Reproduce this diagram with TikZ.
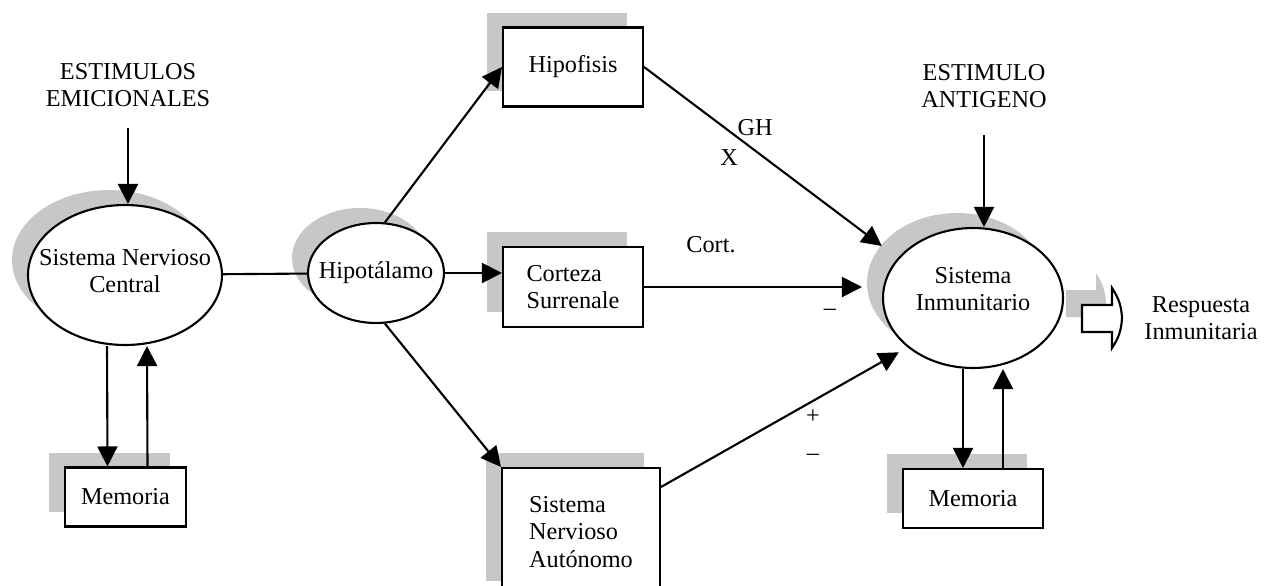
\documentclass[tikz,border=0pt]{standalone}
\usepackage{fontspec}
\setmainfont{Liberation Serif}
\usetikzlibrary{shapes.geometric,arrows.meta,shadows}

\tikzset{
  caja/.style={rectangle, draw, fill=white, line width=1.2pt, minimum width=2.8cm},
  elipse/.style={ellipse, draw, fill=white, line width=1.2pt, inner xsep=-0.4cm, inner ysep=0pt},
  sombra/.style={drop shadow={shadow xshift=-0.32cm, shadow yshift=0.3cm, fill=black!22, opacity=1}},
  flecha/.style={-{Triangle[length=0.4cm, width=0.4cm]}, line width=1.2pt},
}

\begin{document}
\begin{tikzpicture}[x=0.02cm, y=-0.02cm, font=\fontsize{13.8}{15.5}\selectfont]
    \useasboundingbox (0,0) rectangle (1270,585);
    \clip (0,0) rectangle (1270,585);

    % estimulos
    \node[align=center] (emoc) at (128,85) {ESTIMULOS\\EMICIONALES};
    \node[align=center] (antig) at (984,86) {ESTIMULO\\ANTIGENO};

    % elipses
    \node[elipse, sombra, minimum width=3.88cm, minimum height=2.8cm, align=center, text height=0.7cm] (snc) at (125,275) {Sistema Nervioso\\Central};
    \node[elipse, sombra, minimum width=2.72cm, minimum height=2cm] (hipo) at (376,273) {Hipotálamo};
    \node[elipse, sombra, minimum width=3.6cm, minimum height=2.8cm, align=center, text depth=0.36cm] (si) at (973,298) {Sistema\\Inmunitario};

    % cajas
    \node[caja, sombra, minimum height=1.58cm] (hipofisis) at (573,67) {Hipofisis};
    \node[caja, sombra, minimum height=1.6cm, align=left] (corteza) at (573,287) {Corteza\\Surrenale};
    \node[caja, sombra, minimum width=3.16cm, minimum height=2.56cm, align=left] (sna) at (581,532) {Sistema\\Nervioso\\Autónomo};
    \node[caja, sombra, minimum width=2.42cm, minimum height=1.18cm] (memi) at (125.5,497) {Memoria};
    \node[caja, sombra, minimum height=1.18cm] (memd) at (973,498.5) {Memoria};

    % conexiones
    \draw[flecha] ([yshift=-0.3cm]emoc.south) -- (emoc.south |- snc.north);
    \draw[line width=1.2pt] (snc) -- (hipo);
    \draw[flecha] (hipo.80) -- (hipofisis.west);
    \draw[flecha] (hipo) -- (hipo -| corteza.west);
    \draw[flecha] (hipo.280) -- (sna.north west);
    \draw[flecha] ([xshift=-0.36cm]snc.south) -- ([xshift=-0.36cm]memi.north);
    \draw[flecha] ([xshift=0.44cm]memi.north) -- ([xshift=0.44cm]snc.south);
    \draw[flecha, shorten >=0.4cm] (hipofisis.east) -- (si.152);
    \draw[flecha, shorten >=0.4cm] (corteza.east) -- (corteza.east -| si.west);
    \draw[flecha, shorten >=0.2cm] ([yshift=-0.4cm]sna.north east) -- (si.217);
    \draw[flecha] ([yshift=-0.42cm]antig.south) -- (antig.south |- si.north);
    \draw[flecha] ([xshift=-0.2cm]si.south) -- ([xshift=-0.2cm]memd.north);
    \draw[flecha] ([xshift=0.6cm]memd.north) -- ([xshift=0.6cm]si.south);

    % etiquetas
    \node (lgh) at (755,128) {GH};
    \node (lx) at (729,158) {X};
    \node (lcort) at (711,245) {Cort.};
    \node (lmenos) at (830,312) {--};
    \node (lmas) at (813,417) {+};
    \node (lmenosb) at (813,457) {--};

    % respuesta
    \draw[line width=1.2pt, fill=white, sombra] (1082,305) -- (1112,305) -- (1112,288) to[bend left=15] (1122,318) to[bend left=15] (1112,348) -- (1112,332) -- (1082,332) -- cycle;
    \node[align=center] (resp) at (1201,318) {Respuesta\\Inmunitaria};
\end{tikzpicture}
\end{document}
